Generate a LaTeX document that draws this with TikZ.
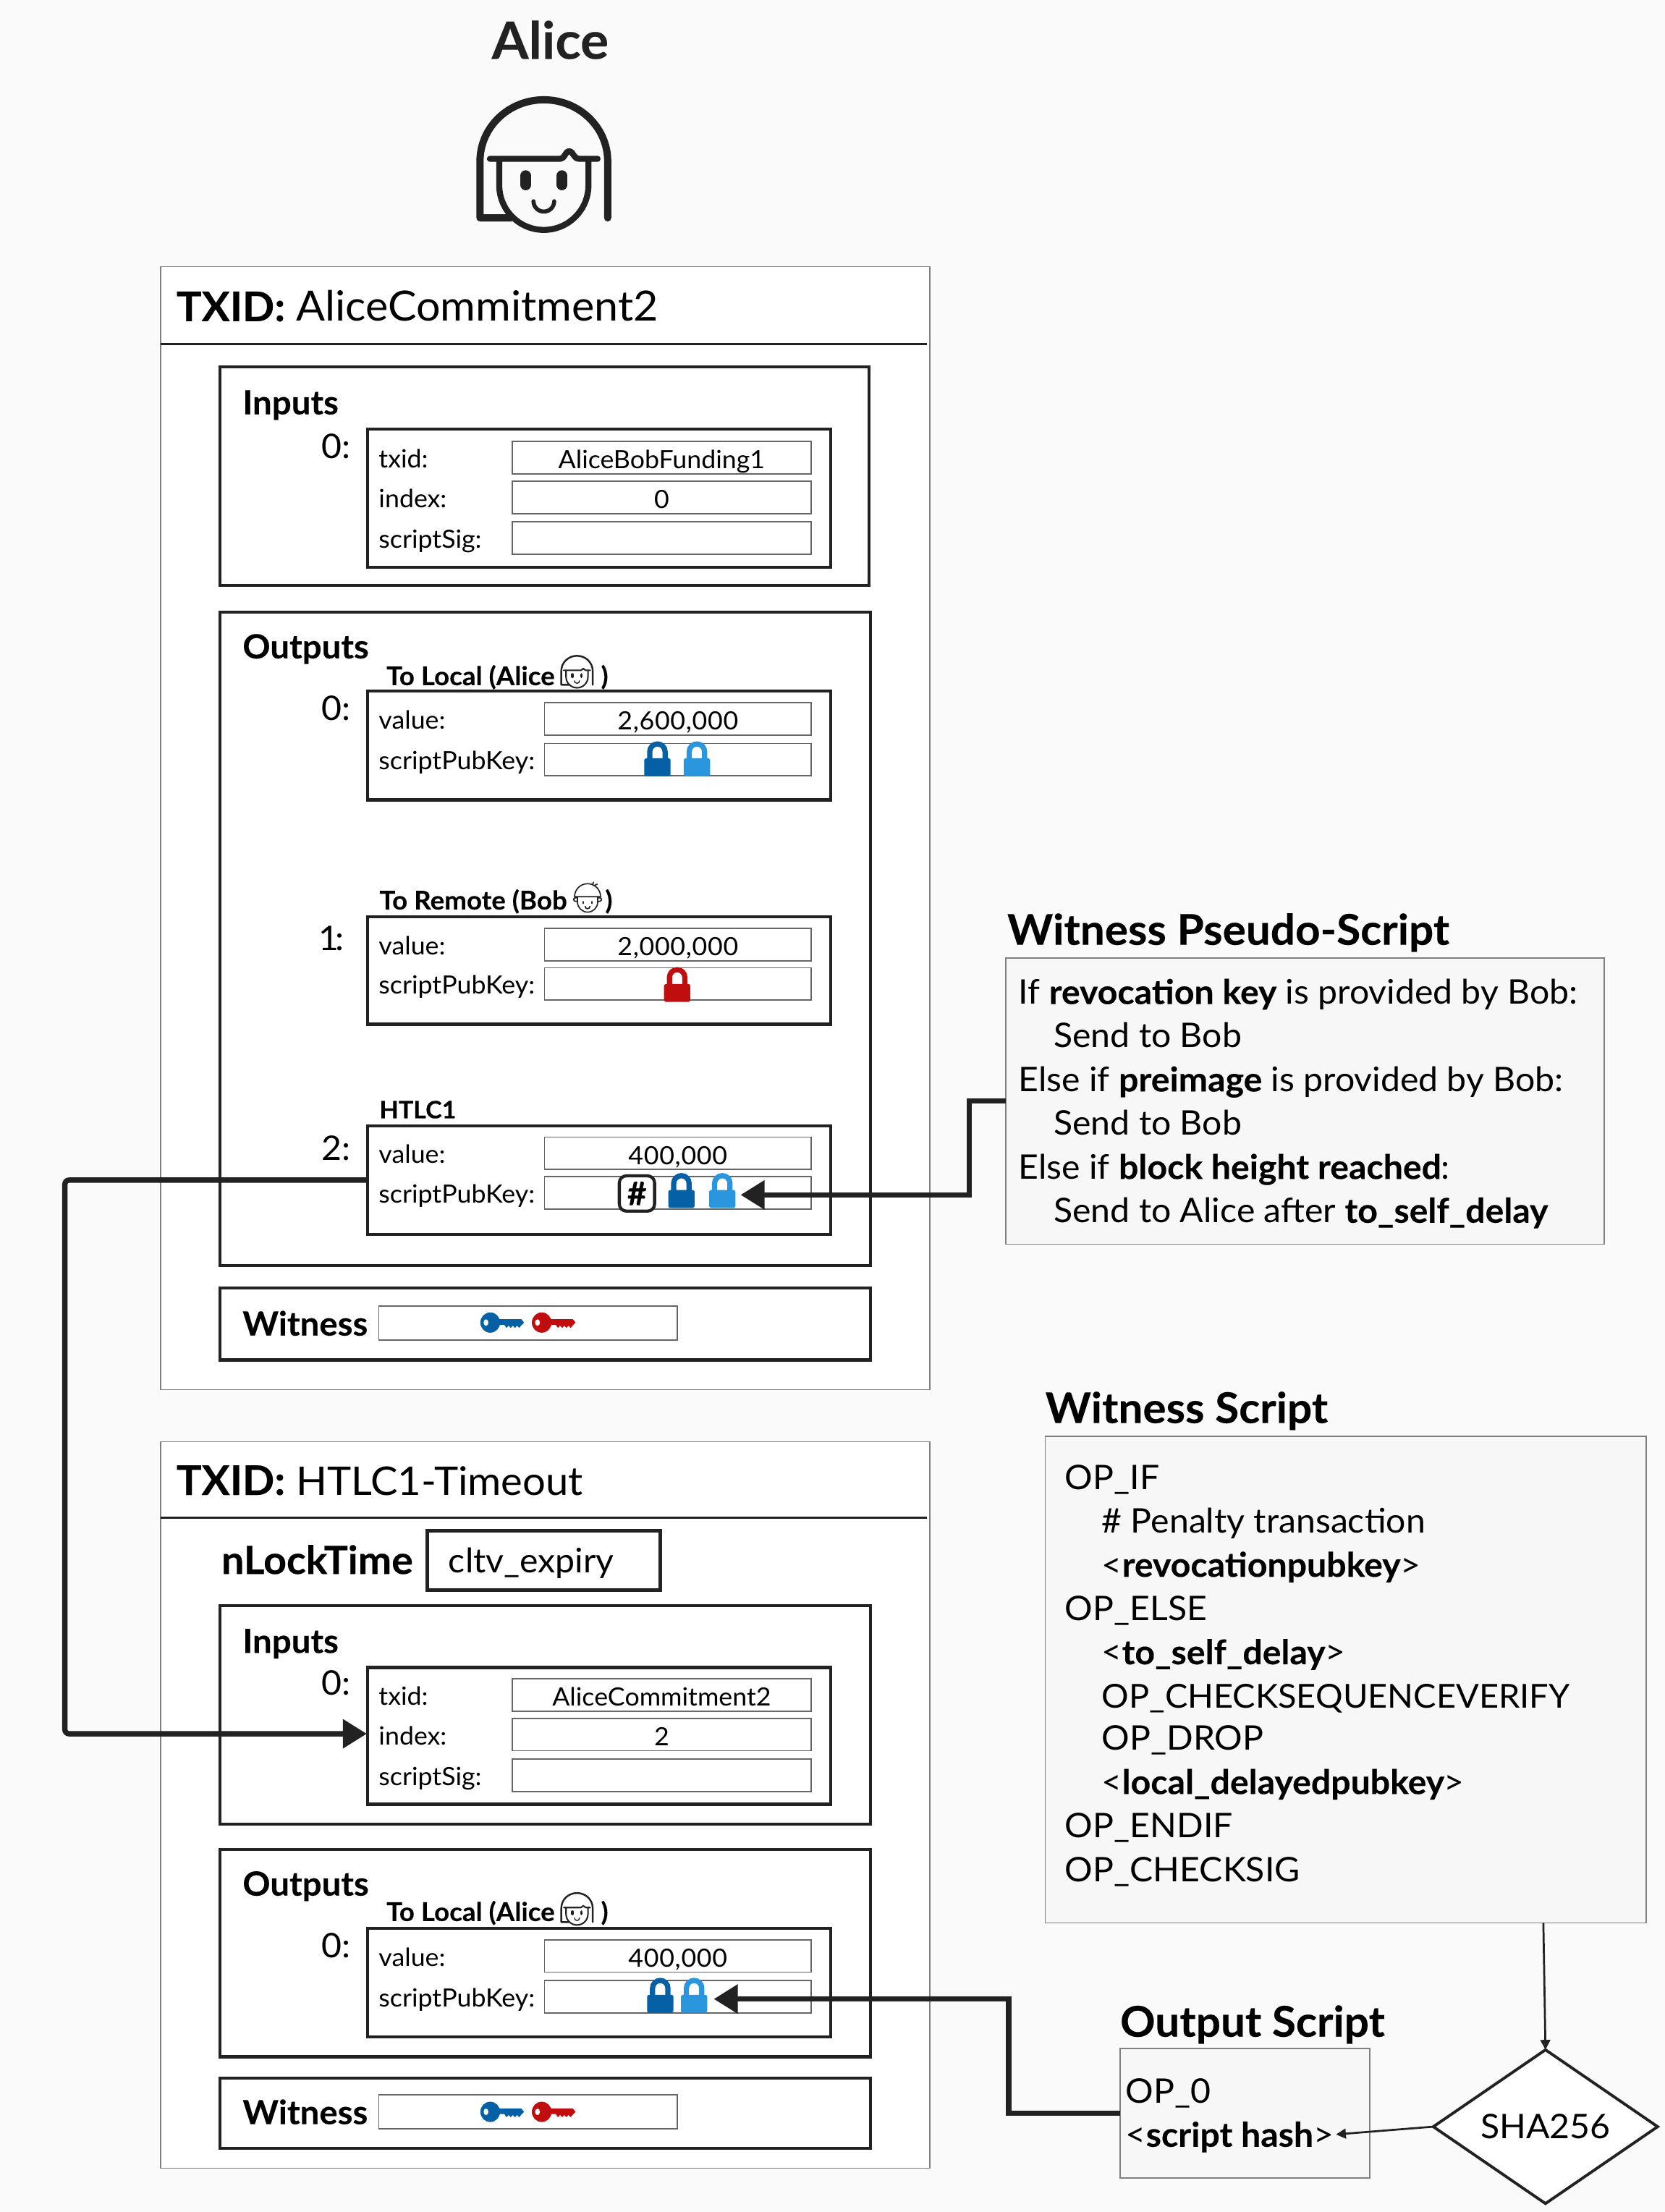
\documentclass[tikz,border=0pt]{standalone}
\usepackage{fontspec}
\setmainfont{Lato}[FakeStretch=1.03,BoldFeatures={FakeBold=0.2}]
\usetikzlibrary{arrows.meta,shapes.geometric}
\definecolor{bgc}{HTML}{FAFAFA}
\definecolor{ink}{HTML}{222222}
\definecolor{panel}{HTML}{F7F7F7}
\definecolor{lockdark}{HTML}{0560A6}
\definecolor{locklight}{HTML}{2A96DE}
\definecolor{lockred}{HTML}{C00D0D}
\tikzset{
  txbox/.style={draw=black!50,line width=0.8pt,fill=white,inner sep=0,outer sep=0},
  groupbox/.style={draw=ink,line width=2.2pt,fill=white,inner sep=0,outer sep=0},
  infield/.style={draw=black!60,line width=0.9pt,fill=white,inner sep=0,outer sep=0},
  notebox/.style={draw=black!50,line width=0.8pt,fill=panel,inner sep=0,outer sep=0},
  t/.style={inner sep=0,outer sep=0,text=black,yshift=-0.7pt},
  small/.style={t,font=\fontsize{17.8}{20}\selectfont},
  sublab/.style={t,font=\fontsize{18.3}{20}\selectfont\bfseries},
  head/.style={t,font=\fontsize{23.6}{28}\selectfont\bfseries},
  idx/.style={t,font=\fontsize{24}{28}\selectfont},
  title/.style={t,font=\fontsize{29}{34}\selectfont},
  nbig/.style={t,font=\fontsize{30}{34}\selectfont\bfseries},
  body/.style={t,font=\fontsize{24}{28}\selectfont},
  thick arrow/.style={draw=ink,line width=3.8pt,-{Triangle[length=17pt,width=20pt]}},
  thin arrow/.style={draw=ink,line width=1.4pt,-{Triangle[length=7pt,width=7pt]}},
}
\newcommand\numv[1]{{\addfontfeature{LetterSpace=2}#1}}
\newcommand\bx[6]{\pgfmathsetmacro\bw{#4-#2}\pgfmathsetmacro\bh{#5-#3}%
  \node[#6,minimum width=\bw pt,minimum height=\bh pt,anchor=north west] (#1) at (#2,#3) {};}
\newcommand\tx[5]{\node[#4,anchor=base west] (#1) at (#2,#3) {#5};}
% name, x of field, top of field, label, value
\newcommand\frow[5]{%
  \bx{#1}{#2}{#3}{575}{#3+23}{infield}
  \pgfmathsetmacro\by{#3+18}
  \tx{#1l}{268.5}{\by}{small}{#4}
  \node[small,anchor=base] (#1v) at ([yshift=0pt]#1.center |- 0,\by+0.6) {#5};}
\newcommand\lockic[3]{% cx, top, colour
  \fill[#3,rounded corners=1pt] (#1-9.3,#2+12) rectangle (#1+9.3,#2+24.7);
  \draw[#3,line width=3.7pt] (#1-5.45,#2+13) -- (#1-5.45,#2+7.3) arc[start angle=180,end angle=0,radius=5.45pt] -- (#1+5.45,#2+13);}
\newcommand\keyic[3]{% left x, centre y, colour
  \fill[#3] (#1+7,#2) ellipse[x radius=7pt,y radius=7.2pt];
  \fill[#3] (#1+11,#2-2.4) -- (#1+29,#2-2.4) -- (#1+31,#2) -- (#1+29,#2+2) -- (#1+27.5,#2+3.8) -- (#1+26,#2+2.2) -- (#1+24.5,#2+3.8) -- (#1+23,#2+2.2) -- (#1+21.5,#2+3.8) -- (#1+20,#2+2.2) -- (#1+18.5,#2+3.8) -- (#1+17,#2+1.6) -- (#1+11,#2+1.6) -- cycle;
  \fill[white] (#1+4,#2) ellipse[x radius=1.7pt,y radius=2.3pt];}
\newcommand\aliceface[3]{% cx, cy, scale
  \pgfmathsetmacro\sa{30*#3}\pgfmathsetmacro\sb{45*#3}\pgfmathsetmacro\sc{17*#3}\pgfmathsetmacro\sd{25*#3}
  \begin{scope}[shift={(#1,#2)},scale=#3,shift={(-457,-680)},draw=ink,fill=ink,line cap=round,line join=round]
    \draw[line width=\sa pt] (722,905) -- (722,670) arc[start angle=0,end angle=180,x radius=265pt,y radius=255pt] -- (192,905) -- (320,905);
    \draw[line width=\sd pt] (233,660) -- (525,660) .. controls (545,660) and (545,628) .. (562,628) .. controls (580,628) and (578,660) .. (605,660) -- (680,660);
    \draw[line width=\sd pt] (272,665) -- (272,770) arc[start angle=180,end angle=360,radius=185pt] -- (642,665);
    \draw[line width=\sb pt] (382,730) -- (382,768);
    \draw[line width=\sb pt] (532,730) -- (532,768);
    \draw[line width=\sc pt] (414,836) arc[start angle=180,end angle=360,radius=43pt];
  \end{scope}}
\newcommand\bobface[3]{% cx, cy, scale
  \pgfmathsetmacro\sa{5*#3}\pgfmathsetmacro\sb{7*#3}
  \begin{scope}[shift={(#1,#2)},scale=#3,shift={(-935,-100)},draw=ink,fill=ink,line cap=round,line join=round]
    \draw[line width=\sa pt] (881,92) arc[start angle=180,end angle=0,radius=54pt] -- cycle;
    \draw[line width=\sa pt] (893,94) -- (893,114) arc[start angle=180,end angle=360,radius=42pt] -- (977,94);
    \draw[line width=\sa pt] (890,96) .. controls (872,94) and (872,112) .. (890,112);
    \draw[line width=\sa pt] (980,96) .. controls (998,94) and (998,112) .. (980,112);
    \draw[line width=\sa pt] (955,42) -- (960,32) (962,46) -- (975,40);
    \draw[line width=\sb pt] (917,113) -- (917,119) (953,113) -- (953,119);
    \draw[line width=\sa pt] (925,132) arc[start angle=180,end angle=360,radius=10pt];
  \end{scope}}
\begin{document}
\begin{tikzpicture}[x=1pt,y=-1pt]
\useasboundingbox (0,0) rectangle (1180.2,1568);
\fill[bgc] (0,0) rectangle (1180.2,1568);

\node[t,font=\fontsize{36.5}{40}\selectfont\bfseries,text=ink,anchor=base] (alice) at (390,41) {Alice};
\aliceface{385.5}{116}{0.1708}

% ---------- first transaction
\bx{tx1}{114}{189}{659}{985}{txbox}
\coordinate (d1a) at (114,244); \coordinate (d1b) at (657,244);
\draw[ink,line width=1.4pt] (d1a) -- (d1b);
\tx{tx1t}{125}{227}{title}{\textbf{TXID:} \fontsize{29.5}{34}\selectfont AliceCommitment2}

\bx{in1}{156}{260}{616}{415}{groupbox}
\tx{in1h}{172}{293}{head}{Inputs}
\tx{in1i}{228}{324}{idx}{0:}
\bx{in1b}{260.5}{304}{589}{402}{groupbox}
\frow{a1}{363}{313}{txid:}{AliceBobFunding1}
\frow{a2}{363}{341}{index:}{0}
\frow{a3}{363}{370}{scriptSig:}{}

\bx{out1}{156}{434}{617}{897}{groupbox}
\tx{out1h}{172}{466}{head}{Outputs}
\tx{o0l}{274}{485}{sublab}{To Local (Alice}
\aliceface{409}{476}{0.042}
\tx{o0r}{426}{485}{sublab}{)}
\tx{o0i}{228}{510}{idx}{0:}
\bx{o0b}{260.5}{490}{589}{567}{groupbox}
\frow{b1}{386}{498}{value:}{\numv{2,600,000}}
\frow{b2}{386}{527}{scriptPubKey:}{}
\lockic{466}{525.5}{lockdark}
\lockic{494}{525.5}{locklight}

\tx{o1l}{269}{644}{sublab}{To Remote (Bob}
\bobface{416.5}{637}{0.1708}
\tx{o1r}{429}{644}{sublab}{)}
\tx{o1i}{226}{673}{idx}{1\kern-2.5pt:}
\bx{o1b}{260.5}{650}{589}{726}{groupbox}
\frow{c1}{386}{658}{value:}{\numv{2,000,000}}
\frow{c2}{386}{686}{scriptPubKey:}{}
\lockic{480}{685.5}{lockred}

\tx{o2l}{269}{792}{t,font=\fontsize{17}{20}\selectfont\bfseries}{HTLC1}
\tx{o2i}{228}{822}{idx}{2:}
\bx{htlc}{260.5}{798}{589}{875}{groupbox}
\frow{e1}{386}{806}{value:}{\numv{400,000}}
\frow{e2}{386}{834}{scriptPubKey:}{}
\node[draw=ink,line width=2.2pt,rounded corners=5pt,fill=white,minimum width=25pt,minimum height=25pt,inner sep=0,font=\fontsize{23}{23}\selectfont\bfseries] (hash) at (451.5,846) {\#};
\lockic{483}{831.5}{lockdark}
\lockic{512}{831.5}{locklight}
\coordinate (tipA) at (525,847);

\bx{wit1}{156}{913}{617}{964}{groupbox}
\tx{wit1h}{172}{946}{head}{Witness}
\bx{wf1}{268.5}{926}{480}{950}{infield}
\keyic{340.5}{937.5}{lockdark}
\keyic{377}{937.5}{lockred}

% ---------- second transaction
\bx{tx2}{114}{1022}{659}{1537}{txbox}
\coordinate (d2a) at (114,1076); \coordinate (d2b) at (657,1076);
\draw[ink,line width=1.4pt] (d2a) -- (d2b);
\tx{tx2t}{125}{1059}{title}{\textbf{TXID:} \fontsize{28}{34}\selectfont HTLC1-Timeout}
\tx{nlt}{157}{1115}{t,font=\fontsize{27.6}{32}\selectfont\bfseries}{nLockTime}
\bx{nlb}{303}{1085}{468}{1127}{groupbox,line width=2.6pt}
\tx{nlv}{318}{1114}{t,font=\fontsize{24}{28}\selectfont}{cltv\_expiry}

\bx{in2}{156}{1138}{617}{1293}{groupbox}
\tx{in2h}{172}{1171}{head}{Inputs}
\tx{in2i}{228}{1201}{idx}{0:}
\bx{in2b}{260.5}{1182}{589}{1279}{groupbox}
\frow{f1}{363}{1190}{txid:}{AliceCommitment2}
\frow{f2}{363}{1218}{index:}{2}
\frow{f3}{363}{1247}{scriptSig:}{}
\coordinate (tipC) at (260,1229);

\bx{out2}{156}{1311}{617}{1458}{groupbox}
\tx{out2h}{172}{1343}{head}{Outputs}
\tx{p0l}{274}{1361}{sublab}{To Local (Alice}
\aliceface{409}{1353}{0.042}
\tx{p0r}{426}{1361}{sublab}{)}
\tx{p0i}{228}{1387}{idx}{0:}
\bx{p0b}{260.5}{1367}{589}{1444}{groupbox}
\frow{g1}{386}{1375}{value:}{\numv{400,000}}
\frow{g2}{386}{1404}{scriptPubKey:}{}
\lockic{468}{1402}{lockdark}
\lockic{492}{1402}{locklight}
\coordinate (tipB) at (506,1417);

\bx{wit2}{156}{1473}{617}{1523}{groupbox}
\tx{wit2h}{172}{1505}{head}{Witness}
\bx{wf2}{268.5}{1485}{480}{1509}{infield}
\keyic{340.5}{1497}{lockdark}
\keyic{377}{1497}{lockred}

% ---------- witness pseudo-script
\tx{ph}{714}{669}{nbig}{Witness Pseudo-Script}
\bx{pseudo}{713}{679}{1137}{882}{notebox}
\tx{p1}{722}{711}{body}{If \textbf{revocation key} is provided by Bob:}
\tx{p2}{747}{742}{body}{Send to Bob}
\tx{p3}{722}{773}{body}{Else if \textbf{preimage} is provided by Bob:}
\tx{p4}{747}{804}{body}{Send to Bob}
\tx{p5}{722}{835}{body}{Else if \textbf{block height reached}:}
\tx{p6}{747}{866}{body}{Send to Alice after \textbf{to\_self\_delay}}

% ---------- witness script
\tx{wh}{741}{1008}{nbig}{Witness Script}
\bx{wscript}{741}{1018}{1167}{1363}{notebox}
\tx{w1}{755}{1055}{body}{OP\_IF}
\tx{w2}{781}{1086}{body}{\# Penalty transaction}
\tx{w3}{781}{1117}{body}{<\textbf{revocationpubkey}>}
\tx{w4}{755}{1148}{body}{OP\_ELSE}
\tx{w5}{781}{1179}{body}{<\textbf{to\_self\_delay}>}
\tx{w6}{781}{1210}{body,font=\fontsize{23.4}{28}\selectfont}{OP\_CHECKSEQUENCEVERIFY}
\tx{w7}{781}{1240}{body}{OP\_DROP}
\tx{w8}{781}{1271}{body}{<\textbf{local\_delayedpubkey}>}
\tx{w9}{755}{1302}{body}{OP\_ENDIF}
\tx{w10}{755}{1333}{body}{OP\_CHECKSIG}

% ---------- output script
\tx{oh}{794}{1443}{nbig}{Output Script}
\bx{oscript}{794}{1452}{971}{1544}{notebox}
\tx{s1}{798}{1490}{body}{OP\_0}
\tx{s2}{798}{1521}{body}{<\textbf{script hash}>}
\coordinate (hashin) at (947,1513);

\node[diamond,draw=ink,line width=2pt,fill=white,aspect=1.46,minimum width=159pt,minimum height=109pt,inner sep=0,outer sep=0,font=\fontsize{24}{28}\selectfont] (sha) at (1095.5,1507.5) {SHA256};

% ---------- connectors
\draw[thick arrow] (pseudo.west) -- ++(-26,0) |- (tipA);
\draw[thick arrow] (oscript.west) -- ++(-79,0) |- (tipB);
\draw[thick arrow,rounded corners=3pt] (htlc.west) -- (46,836.5) |- (tipC);
\draw[thin arrow] (wscript.south -| 1094,0) -- (sha.north);
\draw[thin arrow] (sha.west) -- (hashin);
\end{tikzpicture}
\end{document}
